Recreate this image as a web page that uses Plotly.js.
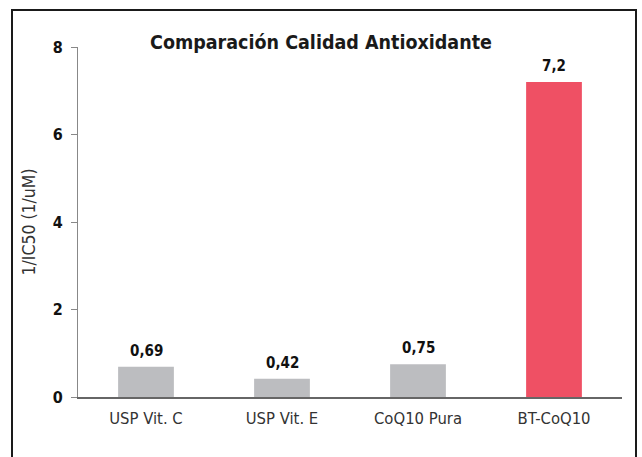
<!DOCTYPE html>
<html>
<head>
<meta charset="utf-8">
<script src="https://cdn.plot.ly/plotly-3.0.1.min.js"></script>
<style>
  html, body { margin: 0; padding: 0; overflow: hidden; background: #fff; }
  #wrap { position: relative; width: 642px; height: 457px; }
  #chart { position: absolute; left: 0; top: 0; width: 642px; height: 457px; }
  #frame { position: absolute; left: 11px; top: 9px; width: 626px; height: 460px;
           border: 2px solid #1a1a1a; pointer-events: none; box-sizing: border-box; }
</style>
</head>
<body>
<div id="wrap">
  <div id="chart"></div>
  <div id="frame"></div>
</div>
<script>
const categories = ["USP Vit. C", "USP Vit. E", "CoQ10 Pura", "BT-CoQ10"];
const values = [0.69, 0.42, 0.75, 7.2];
const valueLabels = ["0,69", "0,42", "0,75", "7,2"];
const barColors = ["#bcbdc0", "#bcbdc0", "#bcbdc0", "#ef5064"];
const yTicks = [0, 2, 4, 6, 8];

const narrow = "DejaVu Sans Condensed, Liberation Sans Narrow, sans-serif";

const trace = {
  type: "bar",
  x: categories,
  y: values,
  marker: { color: barColors },
  hoverinfo: "none"
};

const annotations = categories.map((c, i) => ({
  x: c, y: values[i], xref: "x", yref: "y",
  text: "<b>" + valueLabels[i] + "</b>",
  showarrow: false, yanchor: "bottom", yshift: 5,
  font: { family: narrow, size: 15, color: "#111" }
}));

const layout = {
  width: 642, height: 457,
  margin: { l: 78, r: 20, t: 47, b: 60 },
  paper_bgcolor: "#fff",
  plot_bgcolor: "#fff",
  bargap: 0.59,
  showlegend: false,
  annotations: annotations,
  title: {
    text: "<b>Comparación Calidad Antioxidante</b>",
    font: { family: narrow, size: 19.5, color: "#1a1a1a" },
    x: 0.5, xanchor: "center", xref: "container",
    y: 0.908, yanchor: "middle", yref: "container"
  },
  xaxis: {
    showgrid: false, zeroline: false,
    showline: true, linecolor: "#666", linewidth: 1.5,
    ticks: "", ticklabelstandoff: 6,
    tickfont: { family: narrow, size: 16.5, color: "#333" },
    fixedrange: true
  },
  yaxis: {
    range: [0, 8],
    tickvals: yTicks,
    ticktext: yTicks.map(v => "<b>" + v + "</b>"),
    showgrid: false, zeroline: false,
    showline: true, linecolor: "#888", linewidth: 1,
    ticks: "outside", ticklen: 6, tickcolor: "#888",
    ticklabelstandoff: 5,
    tickfont: { family: narrow, size: 16, color: "#111" },
    title: { text: "1/IC50 (1/uM)", font: { family: narrow, size: 17.5, color: "#333" }, standoff: 12 },
    fixedrange: true
  }
};

Plotly.newPlot("chart", [trace], layout, { displayModeBar: false, staticPlot: true });
</script>
</body>
</html>
